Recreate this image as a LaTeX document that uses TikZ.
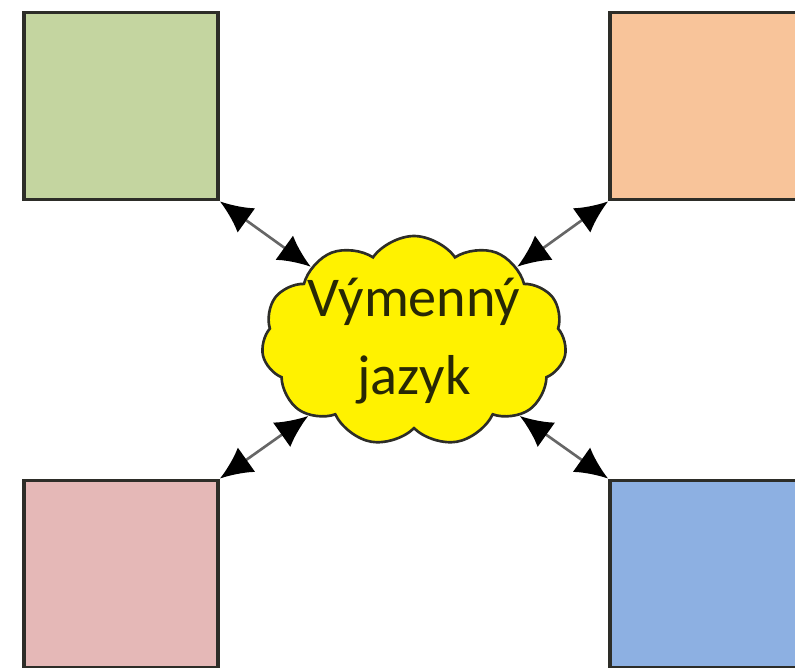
\documentclass[tikz,border=0pt]{standalone}
\usepackage{fontspec}
\setmainfont{Carlito}
\usepackage{xcolor}
\usetikzlibrary{shapes.symbols}
\usetikzlibrary{arrows.meta}

\definecolor{boxgreen}{RGB}{196,213,160}
\definecolor{boxorange}{RGB}{248,196,154}
\definecolor{boxpink}{RGB}{229,184,183}
\definecolor{boxblue}{RGB}{141,176,226}
\definecolor{edgegray}{RGB}{45,45,40}
\definecolor{textolive}{RGB}{40,40,5}

\begin{document}
\begin{tikzpicture}[x=0.02cm,y=0.02cm,
  box/.style={draw=edgegray,line width=2.2pt,minimum width=3.88cm,minimum height=3.74cm,inner sep=0pt},
  link/.style={draw=black!60,line width=1.5pt,{Latex[length=0.65cm,width=0.6cm,black]}-{Latex[length=0.65cm,width=0.6cm,black]}}]
\useasboundingbox (0,0) rectangle (795,668);
\clip (0,0) rectangle (795,668);

% four boxes in the corners
\node[box,fill=boxgreen] (green) at (121,562) {};
\node[box,fill=boxorange] (orange) at (707,562) {};
\node[box,fill=boxpink] (pink) at (121,94) {};
\node[box,fill=boxblue] (blue) at (707,94) {};

% cloud in the middle
\node[cloud,cloud puffs=11,cloud puff arc=110,draw=edgegray,line width=1.5pt,fill=yellow,minimum width=6.1cm,minimum height=4.2cm,inner sep=0pt] (cloud) at (414,327) {};
\node[align=center,text=textolive,font=\fontsize{32}{44}\selectfont] (cloudtext) at (cloud.center) {Výmenný\\jazyk};

\draw[link] (green.south east) -- (cloud);
\draw[link] (orange.south west) -- (cloud);
\draw[link] (pink.north east) -- (cloud);
\draw[link] (blue.north west) -- (cloud);
\end{tikzpicture}
\end{document}
